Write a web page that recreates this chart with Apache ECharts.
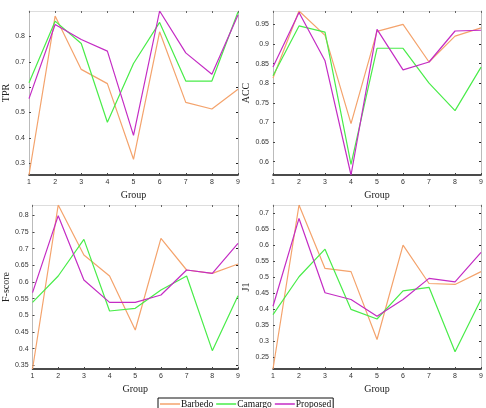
<!DOCTYPE html>
<html><head><meta charset="utf-8">
<script src="https://cdn.jsdelivr.net/npm/echarts@6/dist/echarts.min.js"></script>
<style>html,body{margin:0;padding:0;background:#fff}#c{width:486px;height:408px}</style>
</head><body><div id="c"></div>
<script>
const groups = [1,2,3,4,5,6,7,8,9];
const seriesNames = ['Barbedo','Camargo','Proposed'];
const colors = ['#f4a36c','#49ec49','#c42cc4'];

const tprBarbedo  = [0.254,0.880,0.670,0.614,0.316,0.818,0.540,0.514,0.592];
const tprCamargo  = [0.617,0.860,0.772,0.462,0.693,0.855,0.624,0.624,0.896];
const tprProposed = [0.555,0.847,0.788,0.742,0.410,0.900,0.735,0.651,0.884];

const accBarbedo  = [0.813,0.984,0.922,0.697,0.932,0.950,0.854,0.920,0.941];
const accCamargo  = [0.819,0.946,0.930,0.593,0.889,0.889,0.800,0.730,0.841];
const accProposed = [0.841,0.980,0.857,0.566,0.937,0.834,0.854,0.933,0.935];

const fBarbedo  = [0.339,0.831,0.681,0.618,0.456,0.731,0.636,0.626,0.654];
const fCamargo  = [0.539,0.618,0.728,0.513,0.521,0.576,0.618,0.394,0.559];
const fProposed = [0.568,0.799,0.606,0.539,0.539,0.561,0.636,0.626,0.716];

const jBarbedo  = [0.214,0.726,0.528,0.518,0.306,0.601,0.481,0.478,0.518];
const jCamargo  = [0.384,0.502,0.588,0.400,0.370,0.458,0.469,0.268,0.432];
const jProposed = [0.410,0.684,0.452,0.431,0.379,0.431,0.497,0.486,0.578];

const xTicks = [1,2,3,4,5,6,7,8,9];
const tprTicks = [0.3,0.4,0.5,0.6,0.7,0.8];
const accTicks = [0.6,0.65,0.7,0.75,0.8,0.85,0.9,0.95];
const fTicks = [0.35,0.4,0.45,0.5,0.55,0.6,0.65,0.7,0.75,0.8];
const jTicks = [0.25,0.3,0.35,0.4,0.45,0.5,0.55,0.6,0.65,0.7];

const panels = [
  {name:'TPR', data:[tprBarbedo,tprCamargo,tprProposed], ticks:tprTicks, min:0.254, max:0.900,
   grid:{left:29, width:209, top:11, height:164}},
  {name:'ACC', data:[accBarbedo,accCamargo,accProposed], ticks:accTicks, min:0.566, max:0.984,
   grid:{left:273, width:209, top:11, height:164}},
  {name:'F-score', data:[fBarbedo,fCamargo,fProposed], ticks:fTicks, min:0.339, max:0.831,
   grid:{left:29, width:209, top:205, height:164}},
  {name:'J1', data:[jBarbedo,jCamargo,jProposed], ticks:jTicks, min:0.214, max:0.726,
   grid:{left:273, width:209, top:205, height:164}}
];

const serif = '"Liberation Serif","DejaVu Serif",serif';
const sans = '"Liberation Sans",Arial,sans-serif';
const fmt = v => String(Math.round(v*1000)/1000);

const grid=[], xAxis=[], yAxis=[], series=[];
panels.forEach((p,i)=>{
  grid.push(Object.assign({containLabel:false, show:false}, p.grid));
  xAxis.push({type:'value', gridIndex:i, min:1, max:9, position:'bottom',
    name:'Group', nameLocation:'middle', nameGap:15,
    nameTextStyle:{fontFamily:serif, fontSize:10, color:'#222'},
    axisLine:{lineStyle:{color:'#111', width:1.5}},
    axisTick:{inside:true, length:2, lineStyle:{color:'#444'}, customValues:xTicks},
    axisLabel:{fontFamily:sans, fontSize:7, color:'#333', margin:4, customValues:xTicks, formatter:fmt},
    splitLine:{show:false}});
  xAxis.push({type:'value', gridIndex:i, min:1, max:9, position:'top',
    axisLine:{lineStyle:{color:'#ddd', width:1}},
    axisTick:{inside:true, length:2, lineStyle:{color:'#666'}, customValues:xTicks},
    axisLabel:{show:false}, splitLine:{show:false}});
  yAxis.push({type:'value', gridIndex:i, min:p.min, max:p.max, position:'left',
    name:p.name, nameLocation:'middle', nameGap:18, nameRotate:90,
    nameTextStyle:{fontFamily:serif, fontSize:10, color:'#222'},
    axisLine:{show:true, lineStyle:{color:'#bbb', width:1}},
    axisTick:{inside:true, length:2, lineStyle:{color:'#444'}, customValues:p.ticks},
    axisLabel:{fontFamily:sans, fontSize:7, color:'#333', margin:4, customValues:p.ticks, formatter:fmt},
    splitLine:{show:false}});
  yAxis.push({type:'value', gridIndex:i, min:p.min, max:p.max, position:'right',
    axisLine:{show:true, lineStyle:{color:'#bbb', width:1}},
    axisTick:{inside:true, length:2, lineStyle:{color:'#222'}, customValues:p.ticks},
    axisLabel:{show:false}, splitLine:{show:false}});
  p.data.forEach((arr,k)=>{
    series.push({type:'line', name:seriesNames[k], xAxisIndex:2*i, yAxisIndex:2*i,
      data: groups.map((g,j)=>[g, arr[j]]), symbol:'none', animation:false,
      lineStyle:{color:colors[k], width:1.2}, itemStyle:{color:colors[k]}, z:2+k});
  });
});

const chart = echarts.init(document.getElementById('c'), null, {renderer:'canvas'});
chart.setOption({
  animation:false,
  backgroundColor:'#fff',
  grid, xAxis, yAxis, series,
  legend:{data:seriesNames.map((n,k)=>({name:n, icon:'rect'})), left:158, top:398,
    itemWidth:20, itemHeight:1.5, itemGap:3, padding:[1,2,1,2],
    borderColor:'#111', borderWidth:1,
    textStyle:{fontFamily:serif, fontSize:9.5, color:'#111', padding:[0,0,0,-4]}}
});
</script></body></html>
